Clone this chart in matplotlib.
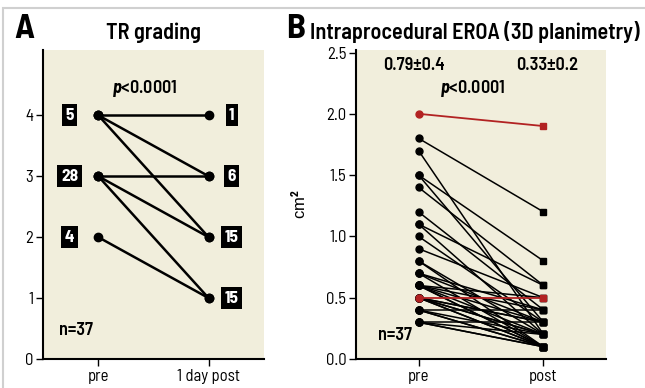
import numpy as np
import matplotlib
matplotlib.use("Agg")
import matplotlib.pyplot as plt
from matplotlib.patches import Rectangle

fam = 'Barlow Semi Condensed'
plt.rcParams['font.family'] = [fam, 'DejaVu Sans']
plt.rcParams['mathtext.fontset'] = 'custom'
plt.rcParams['mathtext.it'] = fam + ':italic:bold'
plt.rcParams['mathtext.rm'] = fam + ':bold'

# panel A: TR grading, pre -> 1 day post
tr_pre = [4, 4, 4, 3, 3, 3, 2]
tr_post = [4, 3, 2, 3, 2, 1, 1]
tr_pre_labels = ['5', '28', '4']
tr_pre_grades = [4, 3, 2]
tr_post_labels = ['1', '6', '15', '15']
tr_post_grades = [4, 3, 2, 1]
tr_xlabels = ['pre', '1 day post']

# panel B: EROA (cm2), black pairs
eroa_pre = [1.8, 1.7, 1.5, 1.5, 1.4, 1.2, 1.1, 1.1, 1.0, 0.9, 0.8, 0.8,
            0.7, 0.7, 0.7, 0.6, 0.6, 0.6, 0.6, 0.6, 0.6,
            0.5, 0.5, 0.5, 0.5, 0.5, 0.5, 0.4, 0.4, 0.4, 0.4,
            0.3, 0.3, 0.3, 0.3]
eroa_post = [1.2, 0.2, 0.8, 0.3, 0.6, 0.4, 0.6, 0.2, 0.3, 0.5, 0.2, 0.1,
             0.4, 0.3, 0.1, 0.5, 0.4, 0.3, 0.2, 0.1, 0.1,
             0.3, 0.2, 0.2, 0.1, 0.1, 0.3, 0.4, 0.2, 0.1, 0.1,
             0.3, 0.2, 0.1, 0.1]
# highlighted (red) pairs
red_pre = [2.0, 0.5]
red_post = [1.9, 0.5]
eroa_xlabels = ['pre', 'post']

beige = '#f1eedc'
red = '#b22222'
bold = dict(fontsize=13, fontweight=600, ha='center', va='center')

fig = plt.figure(figsize=(6.45, 3.88), dpi=100)
fig.add_artist(Rectangle((0.005, -0.05), 1.1, 1.03, transform=fig.transFigure,
                         fill=False, edgecolor='#d0d0d0', linewidth=1.5))

# ---------- panel A ----------
ax1 = fig.add_axes([0.0667, 0.0747, 0.3423, 0.7963])
ax1.set_facecolor(beige)
for a, b in zip(tr_pre, tr_post):
    ax1.plot([0, 1], [a, b], color='black', lw=1.8, marker='o', ms=6,
             solid_capstyle='round')
boxes = [(-0.26, g, l) for g, l in zip(tr_pre_grades, tr_pre_labels)] + \
        [(1.21, g, l) for g, l in zip(tr_post_grades, tr_post_labels)]
for x, g, lab in boxes:
    ax1.text(x, g, lab, color='white', fontsize=12.5, fontweight=700,
             ha='center', va='center',
             bbox=dict(boxstyle='square,pad=0.2', fc='black', ec='none'))
ax1.text(0.42, 4.44, r'$p$<0.0001', **bold)
ax1.text(-0.2, 0.47, 'n=37', **bold)
ax1.set_xlim(-0.5, 1.5)
ax1.set_ylim(0, 5.07)
ax1.set_yticks([0, 1, 2, 3, 4])
ax1.set_xticks([0, 1])
ax1.set_xticklabels(tr_xlabels)
ax1.spines['top'].set_visible(False)
ax1.spines['right'].set_visible(False)
ax1.spines['left'].set_linewidth(1.5)
ax1.spines['bottom'].set_linewidth(1.5)
ax1.tick_params(labelsize=12, length=5, width=1, pad=2)
ax1.set_title('TR grading', fontsize=16, fontweight=600, pad=8)
fig.text(0.022, 0.925, 'A', fontsize=25, fontweight=700, va='center')

# ---------- panel B ----------
ax2 = fig.add_axes([0.552, 0.0747, 0.3875, 0.7963])
ax2.set_facecolor(beige)
for a, b in zip(eroa_pre, eroa_post):
    ax2.plot([0, 1], [a, b], color='black', lw=1.1)
ax2.plot(np.zeros(len(eroa_pre)), eroa_pre, 'o', color='black', ms=5)
ax2.plot(np.ones(len(eroa_post)), eroa_post, 's', color='black', ms=5)
for a, b in zip(red_pre, red_post):
    ax2.plot([0, 1], [a, b], color=red, lw=1.3)
    ax2.plot(0, a, 'o', color=red, ms=5)
    ax2.plot(1, b, 's', color=red, ms=5)
ax2.text(-0.036, 2.39, '0.79\u00b10.4', **bold)
ax2.text(1.03, 2.39, '0.33\u00b10.2', **bold)
ax2.text(0.43, 2.21, r'$p$<0.0001', **bold)
ax2.text(-0.19, 0.19, 'n=37', **bold)
ax2.set_xlim(-0.5, 1.5)
ax2.set_ylim(0, 2.52)
ax2.set_yticks(np.arange(0, 2.51, 0.5))
ax2.set_yticklabels(['%.1f' % v for v in np.arange(0, 2.51, 0.5)])
ax2.set_xticks([0, 1])
ax2.set_xticklabels(eroa_xlabels)
ax2.spines['top'].set_visible(False)
ax2.spines['right'].set_visible(False)
ax2.spines['left'].set_linewidth(1.5)
ax2.spines['bottom'].set_linewidth(1.5)
ax2.tick_params(labelsize=12, length=5, width=1, pad=2)
ax2.set_ylabel('cm$^2$', fontsize=12, labelpad=12, family='Liberation Sans')
fig.text(0.443, 0.925, 'B', fontsize=25, fontweight=700, va='center')
fig.text(0.481, 0.918, 'Intraprocedural EROA (3D planimetry)', fontsize=16,
         fontweight=600, va='center')

fig.savefig('out.png', dpi=100)
